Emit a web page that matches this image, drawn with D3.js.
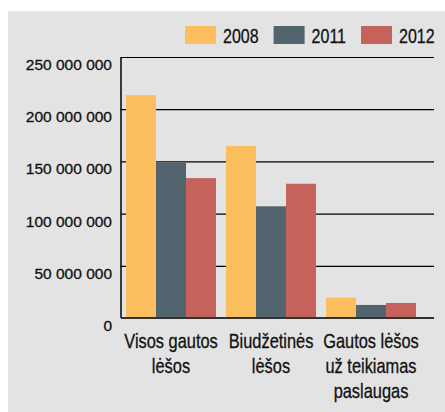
<!DOCTYPE html>
<html lang="lt">
<head>
<meta charset="UTF-8">
<title>Lėšos</title>
<style>
  body { margin: 0; background: #fff; }
  svg { display: block; }
  .axis .domain { display: none; }
  .axis line { stroke: #000; stroke-width: 1.2px; }
  .cat text, .legend text { font-family: "Liberation Sans", Arial, sans-serif; fill: #111; }
</style>
<script src="https://cdn.jsdelivr.net/npm/d3@7"></script>
</head>
<body>
<script>
  // data
  const categories = [["Visos gautos", "lėšos"], ["Biudžetinės", "lėšos"], ["Gautos lėšos", "už teikiamas", "paslaugas"]];
  const years = ["2008", "2011", "2012"];
  const v2008 = [213500000, 164800000, 19500000];
  const v2011 = [148500000, 107000000, 12500000];
  const v2012 = [134000000, 128600000, 14400000];
  const yTicks = [0, 50000000, 100000000, 150000000, 200000000, 250000000];
  const colors = ["#fdbe5f", "#52646d", "#c5625c"];

  const width = 445, height = 412;
  const m = { left: 121, right: 11, top: 57, bottom: 318 };
  const series = [v2008, v2011, v2012];
  const narrow = 0.8; // squeeze regular font to look condensed

  const svg = d3.select("body").append("svg")
      .attr("width", width).attr("height", height);

  svg.append("rect")
      .attr("x", 8).attr("y", 11)
      .attr("width", width - 8).attr("height", height - 11)
      .attr("fill", "#e3e3e3");

  const catIdx = categories.map((d, i) => i);
  const x0 = d3.scaleBand().domain(catIdx)
      .range([m.left, m.left + 300]).paddingInner(0.1).paddingOuter(0.05);
  const x1 = d3.scaleBand().domain(years).range([0, x0.bandwidth()]);
  const y = d3.scaleLinear().domain([0, 250000000]).range([m.bottom, m.top]);

  const fmt = d => d === 0 ? "0" : d3.format(",")(d).replace(/,/g, " ");

  // gridlines + labels
  const yAxis = d3.axisLeft(y).tickValues(yTicks).tickFormat(fmt)
      .tickSize(-(width - m.right - m.left)).tickPadding(9);
  const gy = svg.append("g").attr("class", "axis")
      .attr("transform", `translate(${m.left},0)`)
      .call(yAxis);
  gy.selectAll("text")
      .attr("dy", "0.8em")
      .style("font-family", "'Liberation Sans'")
      .style("font-size", "15.5px")
      .style("fill", "#111")
      .style("stroke", "#111")
      .style("stroke-width", "0.3px");
  gy.selectAll(".tick").filter(d => d === 0).select("line").remove();

  // bars
  const groups = svg.append("g").selectAll("g")
      .data(catIdx).join("g")
      .attr("transform", i => `translate(${x0(i)},0)`);
  groups.selectAll("rect")
      .data(i => years.map((yr, k) => ({ yr, k, v: series[k][i] })))
      .join("rect")
      .attr("x", d => x1(d.yr))
      .attr("width", x1.bandwidth())
      .attr("y", d => y(d.v))
      .attr("height", d => y(0) - y(d.v))
      .attr("fill", d => colors[d.k]);

  // axis lines
  svg.append("line")
      .attr("x1", m.left).attr("x2", m.left)
      .attr("y1", y(250000000)).attr("y2", y(0))
      .attr("stroke", "#000").attr("stroke-width", 1.5);
  svg.append("line")
      .attr("x1", m.left).attr("x2", width - m.right)
      .attr("y1", y(0)).attr("y2", y(0))
      .attr("stroke", "#333").attr("stroke-width", 2);

  // category labels
  const cat = svg.append("g").attr("class", "cat");
  cat.selectAll("text")
      .data(catIdx).join("text")
      .attr("transform", i => `translate(${x0(i) + x0.bandwidth() / 2},348) scale(${narrow},1)`)
      .attr("text-anchor", "middle")
      .attr("font-size", 20.5)
      .attr("stroke", "#111").attr("stroke-width", 0.3)
      .selectAll("tspan")
      .data(i => categories[i].map((t, j) => ({ t, j })))
      .join("tspan")
      .attr("x", 0)
      .attr("dy", d => d.j === 0 ? 0 : 25)
      .text(d => d.t);

  // legend
  const legend = svg.append("g").attr("class", "legend");
  let lx = 185;
  years.forEach((yr, k) => {
    legend.append("rect")
        .attr("x", lx).attr("y", 26).attr("width", 31).attr("height", 18)
        .attr("fill", colors[k]);
    const t = legend.append("text")
        .attr("transform", `translate(${lx + 38},43) scale(${narrow},1)`)
        .attr("font-size", 20)
        .attr("stroke", "#111").attr("stroke-width", 0.3)
        .text(yr);
    lx += 38 + t.node().getComputedTextLength() * narrow + 15;
  });
</script>
</body>
</html>
